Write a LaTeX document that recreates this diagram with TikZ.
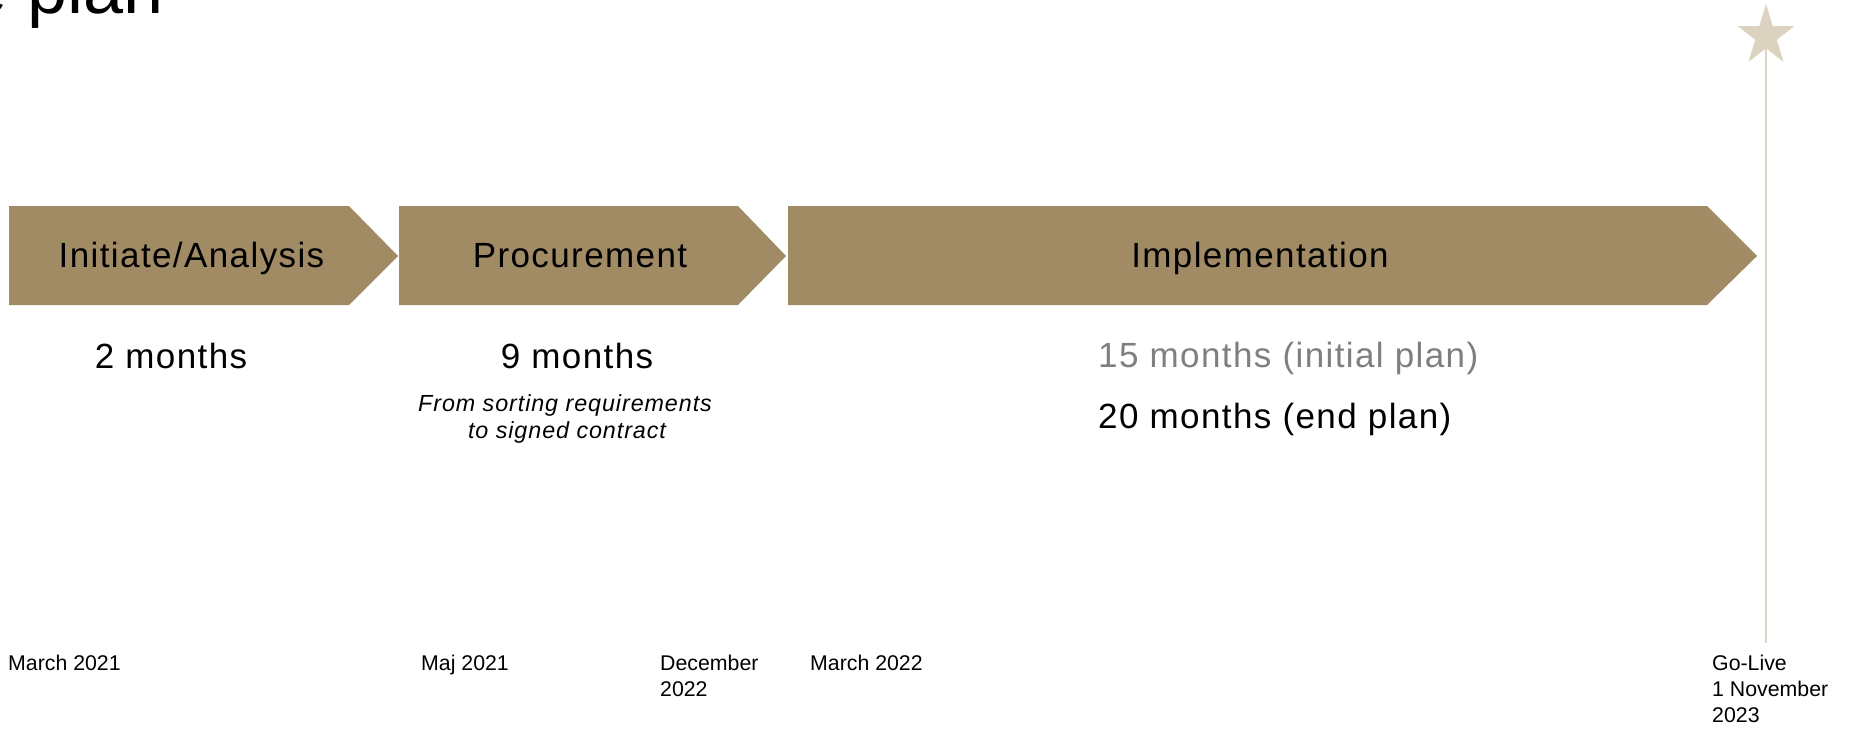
\documentclass[tikz,border=0pt]{standalone}
\usepackage{fontspec}
\setmainfont{Liberation Sans}
\newfontfamily\phasefont[LetterSpace=4]{Liberation Sans}
\newfontfamily\datefont{Liberation Sans}
\usetikzlibrary{shapes.geometric}

\definecolor{phasebrown}{HTML}{A08B65}
\definecolor{milestone}{HTML}{DBD2C0}
\definecolor{milestoneline}{HTML}{DCD3C6}
\definecolor{initialgray}{HTML}{7F7F7F}

\tikzset{
  phase/.style={fill=phasebrown, draw=none},
  phaselabel/.style={inner sep=0pt, anchor=base, font=\phasefont\fontsize{35}{40}\selectfont},
  duration/.style={inner sep=0pt, anchor=base, font=\phasefont\fontsize{35}{40}\selectfont},
  durationleft/.style={duration, anchor=base west},
  note/.style={inner sep=0pt, anchor=base, font=\phasefont\itshape\fontsize{23.3}{28}\selectfont},
  datelabel/.style={inner sep=0pt, anchor=north west, align=left,
    font=\datefont\fontsize{21.3}{26}\selectfont},
}

\begin{document}
\begin{tikzpicture}[x=1pt,y=-1pt]
\useasboundingbox (0,0) rectangle (1854,731);

% title, running off the top left corner
\begin{scope}
  \clip (0,0) rectangle (1854,731);
  \node[inner sep=0pt, anchor=base west, font=\datefont\fontsize{72}{80}\selectfont]
    (title) at (-33,13) {e plan};
\end{scope}

% phase arrows
\fill[phase] (9,206) -- (349,206) -- (398,256) -- (349,305) -- (9,305) -- cycle;
\fill[phase] (399,206) -- (738,206) -- (786,256) -- (738,305) -- (399,305) -- cycle;
\fill[phase] (788,206) -- (1707,206) -- (1757,256) -- (1707,305) -- (788,305) -- cycle;

\node[phaselabel] (initiate) at (191.5,267) {Initiate/Analysis};
\node[phaselabel] (procurement) at (580,267) {Procurement};
\node[phaselabel] (implementation) at (1260,267) {Implementation};

% durations
\node[duration] (dur1) at (171,368) {2 months};
\node[duration] (dur2) at (577,368) {9 months};
\node[note] (note1) at (565,411) {From sorting requirements};
\node[note] (note2) at (567,438) {to signed contract};
\node[durationleft, text=initialgray] (dur3a) at (1098,367) {15 months (initial plan)};
\node[durationleft] (dur3b) at (1098,428) {20 months (end plan)};

% go-live milestone
\node[star, star points=5, star point ratio=2.618, minimum size=64pt, xscale=0.93,
      inner sep=0pt, fill=milestone, draw=none] (star) at (1766,36) {};
\coordinate (golivefoot) at (1766,643);
\draw[milestoneline, line width=2pt] (star.inner point 3) -- (golivefoot);

% dates
\node[datelabel] (d1) at (8,655) {March 2021};
\node[datelabel] (d2) at (421,655) {Maj 2021};
\node[datelabel] (d3) at (660,655) {December\\2022};
\node[datelabel] (d4) at (810,655) {March 2022};
\node[datelabel] (d5) at (1712,655) {Go-Live\\1 November\\2023};
\end{tikzpicture}
\end{document}
